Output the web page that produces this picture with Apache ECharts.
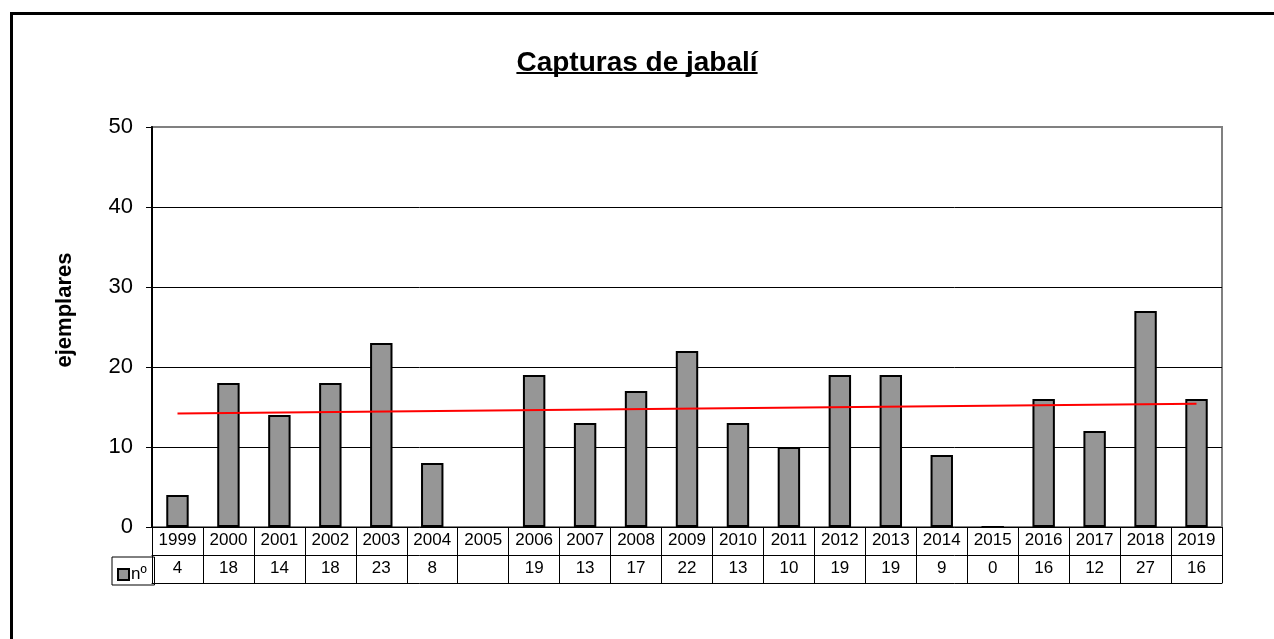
<!DOCTYPE html>
<html>
<head>
<meta charset="utf-8">
<script src="https://cdn.jsdelivr.net/npm/echarts@6/dist/echarts.min.js"></script>
<style>
  html, body { margin: 0; padding: 0; background: #fff; }
  #chart { width: 1274px; height: 639px; }
</style>
</head>
<body>
<div id="chart"></div>
<script>
// datos
var years = ['1999', '2000', '2001', '2002', '2003', '2004', '2005', '2006', '2007', '2008', '2009',
  '2010', '2011', '2012', '2013', '2014', '2015', '2016', '2017', '2018', '2019'];
var capturas = [4, 18, 14, 18, 23, 8, null, 19, 13, 17, 22, 13, 10, 19, 19, 9, 0, 16, 12, 27, 16];
// linea de tendencia (solo extremos)
var tendencia = [14.2, null, null, null, null, null, null, null, null, null, null,
  null, null, null, null, null, null, null, null, null, 15.4];
var yTicks = [0, 10, 20, 30, 40, 50];

var font = '"Liberation Sans", Arial, sans-serif';
var titulo = 'Capturas de jabalí';
var myChart = echarts.init(document.getElementById('chart'));

// ancho del titulo para el subrayado
var ctx = document.createElement('canvas').getContext('2d');
ctx.font = 'bold 28px ' + font;
var tw = ctx.measureText(titulo).width;

var option = {
  animation: false,
  backgroundColor: '#fff',
  textStyle: { fontFamily: font, color: '#000' },
  title: {
    text: titulo,
    left: 'center',
    top: 44,
    textStyle: { fontFamily: font, fontSize: 28, fontWeight: 'bold', color: '#000' }
  },
  legend: {
    data: ['nº'],
    left: 112,
    top: 561,
    itemWidth: 11,
    itemHeight: 11,
    icon: 'rect',
    textStyle: { fontFamily: font, fontSize: 17, color: '#000', padding: [0, 0, 0, -3] },
    selectedMode: false
  },
  grid: {
    left: 152,
    right: 52,
    top: 127,
    bottom: 112,
    show: true,
    borderColor: '#808080',
    borderWidth: 2,
    backgroundColor: '#fff'
  },
  xAxis: [
    {
      type: 'category',
      data: years,
      position: 'bottom',
      axisLine: { show: true, lineStyle: { color: '#000', width: 1 } },
      axisTick: { show: true, length: 56, lineStyle: { color: '#000', width: 1 } },
      axisLabel: { fontFamily: font, fontSize: 17, color: '#000', margin: 5, lineHeight: 17, interval: 0 }
    },
    {
      type: 'category',
      data: years,
      position: 'bottom',
      offset: 28,
      axisLine: { show: true, lineStyle: { color: '#000', width: 1 } },
      axisTick: { show: false },
      axisLabel: {
        fontFamily: font, fontSize: 17, color: '#000', margin: 5, lineHeight: 17, interval: 0,
        formatter: function (v, i) { return capturas[i] == null ? '' : String(capturas[i]); }
      }
    },
    {
      type: 'category',
      data: years,
      position: 'bottom',
      offset: 56,
      axisLine: { show: true, lineStyle: { color: '#000', width: 1 } },
      axisTick: { show: false },
      axisLabel: { show: false }
    }
  ],
  yAxis: {
    type: 'value',
    min: yTicks[0],
    max: yTicks[yTicks.length - 1],
    interval: 10,
    axisLine: { show: true, lineStyle: { color: '#000', width: 2 } },
    axisTick: { show: true, length: 6, lineStyle: { color: '#000', width: 1 } },
    axisLabel: { fontFamily: font, fontSize: 22, color: '#000', margin: 19 },
    splitLine: { show: true, showMinLine: false, showMaxLine: false, lineStyle: { color: '#000', width: 1 } }
  },
  series: [
    {
      name: 'nº',
      type: 'bar',
      xAxisIndex: 0,
      data: capturas,
      barWidth: '44%',
      itemStyle: { color: '#969696', borderColor: '#000', borderWidth: 2 }
    },
    {
      name: 'tendencia',
      type: 'line',
      xAxisIndex: 0,
      data: tendencia,
      connectNulls: true,
      symbol: 'none',
      lineStyle: { color: '#ff0000', width: 2 },
      z: 5
    }
  ],
  graphic: [
    // marco exterior
    { type: 'rect', left: 9, top: 11, shape: { width: 1300, height: 700 },
      style: { fill: 'none', stroke: '#000', lineWidth: 3 }, silent: true },
    // celda de la leyenda
    { type: 'rect', left: 109.5, top: 554.5, shape: { width: 42.5, height: 28 },
      style: { fill: 'none', stroke: '#000', lineWidth: 1 }, silent: true, z: 10 },
    // subrayado del titulo
    { type: 'rect', left: (1274 - tw) / 2, top: 72, shape: { width: tw, height: 2 },
      style: { fill: '#000' }, silent: true },
    // titulo del eje
    { type: 'text', x: 65, y: 310, rotation: Math.PI / 2,
      style: { text: 'ejemplares', font: 'bold 22px ' + font, fill: '#000',
        align: 'center', verticalAlign: 'middle' }, silent: true }
  ]
};
myChart.setOption(option);
</script>
</body>
</html>
